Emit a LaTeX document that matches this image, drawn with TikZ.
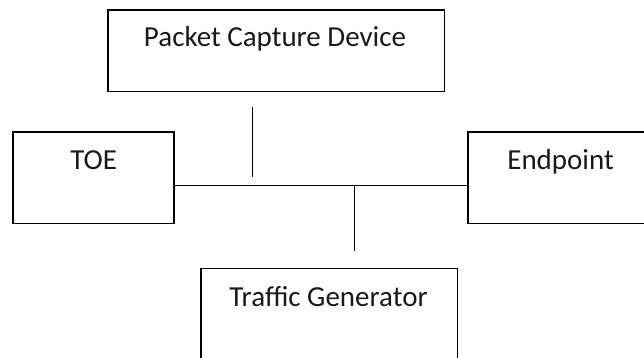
\documentclass[tikz,border=0pt]{standalone}
\usepackage{fontspec}
\setmainfont{Carlito}
\begin{document}
\begin{tikzpicture}[x=1pt,y=-1pt,
  box/.style={draw=black, line width=1.7pt, rectangle, anchor=north west, inner sep=0pt},
  lbl/.style={anchor=base, font=\fontsize{29}{34}\selectfont, inner sep=0pt, text=black!90},
  link/.style={line width=1.3pt}]
\useasboundingbox (0,0) rectangle (644,358);
\clip (0,0) rectangle (644,358);
% boxes
\node[box, minimum width=336.7pt, minimum height=81.4pt] (pcd) at (106.8,9.3) {};
\node[box, minimum width=161pt, minimum height=91.7pt] (toe) at (12.3,131) {};
\node[box, minimum width=200pt, minimum height=91.7pt] (ep) at (467,131) {};
\node[box, minimum width=256.7pt, minimum height=120pt] (tg) at (200,267.7) {};
% labels
\node[lbl] (pcdt) at (275,47) {Packet Capture Device};
\node[lbl] (toet) at (93.6,169.5) {TOE};
\node[lbl] (ept) at (560.6,169.5) {Endpoint};
\node[lbl] (tgt) at (328.5,306.2) {Traffic Generator};
% connectors
\coordinate (bus) at (0,185.7);
\coordinate (pcdtail) at (252.6,107.3);
\coordinate (pcdhead) at (252.6,177.3);
\coordinate (tgtap) at (354.8,185.7);
\coordinate (tgend) at (354.8,250.7);
\draw[link] (toe.east |- bus) -- (ep.west |- bus);
\draw[link] (pcdtail) -- (pcdhead);
\draw[link] (tgtap) -- (tgend);
\end{tikzpicture}
\end{document}
